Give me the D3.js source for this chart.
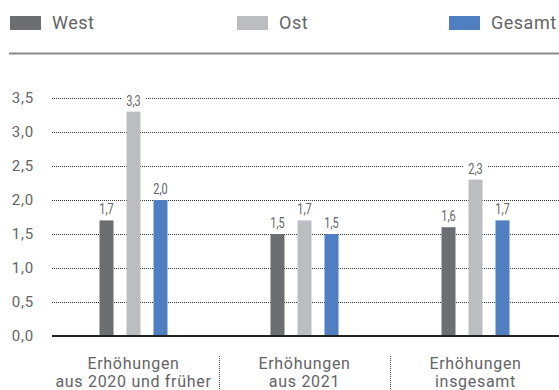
<!DOCTYPE html>
<html>
<head>
<meta charset="utf-8">
<script src="https://cdn.jsdelivr.net/npm/d3@7"></script>
<style>
  body { margin: 0; background: #fff; }
  svg { display: block; font-family: Roboto, "Noto Sans", sans-serif; }
</style>
</head>
<body>
<svg width="559" height="390"></svg>
<script>
var categories = [["Erhöhungen", "aus 2020 und früher"], ["Erhöhungen", "aus 2021"], ["Erhöhungen", "insgesamt"]];
var series = ["West", "Ost", "Gesamt"];
var west = [1.7, 1.5, 1.6];
var ost = [3.3, 1.7, 2.3];
var gesamt = [2.0, 1.5, 1.7];
var yTicks = [0, 0.5, 1, 1.5, 2, 2.5, 3, 3.5];
var colors = ["#6d6e71", "#bcbdc0", "#4f7fc1"];

var values = [west, ost, gesamt];
var fmt = function(v) { return d3.format(".1f")(v).replace(".", ","); };
var textColor = "#636466";

var svg = d3.select("svg");

// legend
var legendX = [10, 237, 449];
var legend = svg.selectAll(".legend")
  .data(series)
  .enter()
  .append("g")
    .attr("class", "legend")
    .attr("transform", function(d, i) { return "translate(" + legendX[i] + ",0)"; });
legend.append("rect")
    .attr("y", 16)
    .attr("width", 31)
    .attr("height", 14)
    .attr("fill", function(d, i) { return colors[i]; });
legend.append("text")
    .attr("x", 42)
    .attr("y", 29)
    .attr("font-size", 18)
    .attr("letter-spacing", 0.5)
    .attr("fill", textColor)
    .text(function(d) { return d; });

svg.append("line")
    .attr("x1", 9).attr("x2", 559)
    .attr("y1", 53.5).attr("y2", 53.5)
    .attr("stroke", "#8a8a8a")
    .attr("stroke-width", 2);

// scales
var x = d3.scaleBand().domain(d3.range(categories.length)).range([48, 561]);
var y = d3.scaleLinear().domain([0, 3.5]).range([336, 98]);
var inner = d3.scaleBand().domain(d3.range(series.length)).range([-34, 47]);

// y axis labels + grid
svg.append("g")
  .selectAll("line")
  .data(yTicks.filter(function(d) { return d > 0; }))
  .enter()
  .append("line")
    .attr("x1", 52).attr("x2", 559)
    .attr("y1", function(d) { return Math.round(y(d)) + 0.5; })
    .attr("y2", function(d) { return Math.round(y(d)) + 0.5; })
    .attr("stroke", "#333")
    .attr("stroke-width", 1)
    .attr("stroke-dasharray", "1,1");

svg.append("g")
  .selectAll("text")
  .data(yTicks)
  .enter()
  .append("text")
    .attr("x", 34)
    .attr("y", function(d) { return y(d) + 5; })
    .attr("text-anchor", "end")
    .attr("font-size", 15)
    .attr("letter-spacing", 0.8)
    .attr("fill", textColor)
    .text(fmt);

// bars
var groups = svg.selectAll(".grp")
  .data(categories)
  .enter()
  .append("g")
    .attr("class", "grp")
    .attr("transform", function(d, i) { return "translate(" + (x(i) + x.bandwidth() / 2) + ",0)"; });

series.forEach(function(s, si) {
  groups.append("rect")
      .attr("x", inner(si))
      .attr("y", function(d, i) { return y(values[si][i]); })
      .attr("width", 14)
      .attr("height", function(d, i) { return y(0) - y(values[si][i]); })
      .attr("fill", colors[si]);
});

// value labels (condensed) with white knockout behind
series.forEach(function(s, si) {
  var lab = groups.append("g");
  var t = lab.append("text")
      .attr("x", inner(si) + 7)
      .attr("y", function(d, i) { return y(values[si][i]) - 6; })
      .attr("text-anchor", "middle")
      .attr("font-size", 14)
      .attr("fill", textColor)
      .text(function(d, i) { return fmt(values[si][i]); });
  t.each(function() {
    var w = this.getComputedTextLength();
    d3.select(this)
        .attr("textLength", w * 0.78)
        .attr("lengthAdjust", "spacingAndGlyphs");
    var b = this.getBBox();
    d3.select(this.parentNode).insert("rect", "text")
        .attr("x", b.x - 5).attr("y", b.y + 2)
        .attr("width", b.width + 10).attr("height", b.height - 2)
        .attr("fill", "#fff");
  });
});

// baseline
svg.append("line")
    .attr("x1", 52).attr("x2", 559)
    .attr("y1", y(0)).attr("y2", y(0))
    .attr("stroke", "#222")
    .attr("stroke-width", 2);

// category labels
groups.each(function(d) {
  var t = d3.select(this).append("text")
      .attr("text-anchor", "middle")
      .attr("font-size", 16)
      .attr("fill", textColor)
      .attr("letter-spacing", 0.7);
  t.append("tspan").attr("x", 0).attr("y", 369).text(d[0]);
  t.append("tspan").attr("x", 0).attr("y", 387).text(d[1]);
});

// dotted separators
svg.selectAll(".sep")
  .data([1, 2])
  .enter()
  .append("line")
    .attr("class", "sep")
    .attr("x1", function(d) { return Math.round(x(d)) + 0.5; })
    .attr("x2", function(d) { return Math.round(x(d)) + 0.5; })
    .attr("y1", 356).attr("y2", 390)
    .attr("stroke", "#444")
    .attr("stroke-dasharray", "1,1");
</script>
</body>
</html>
